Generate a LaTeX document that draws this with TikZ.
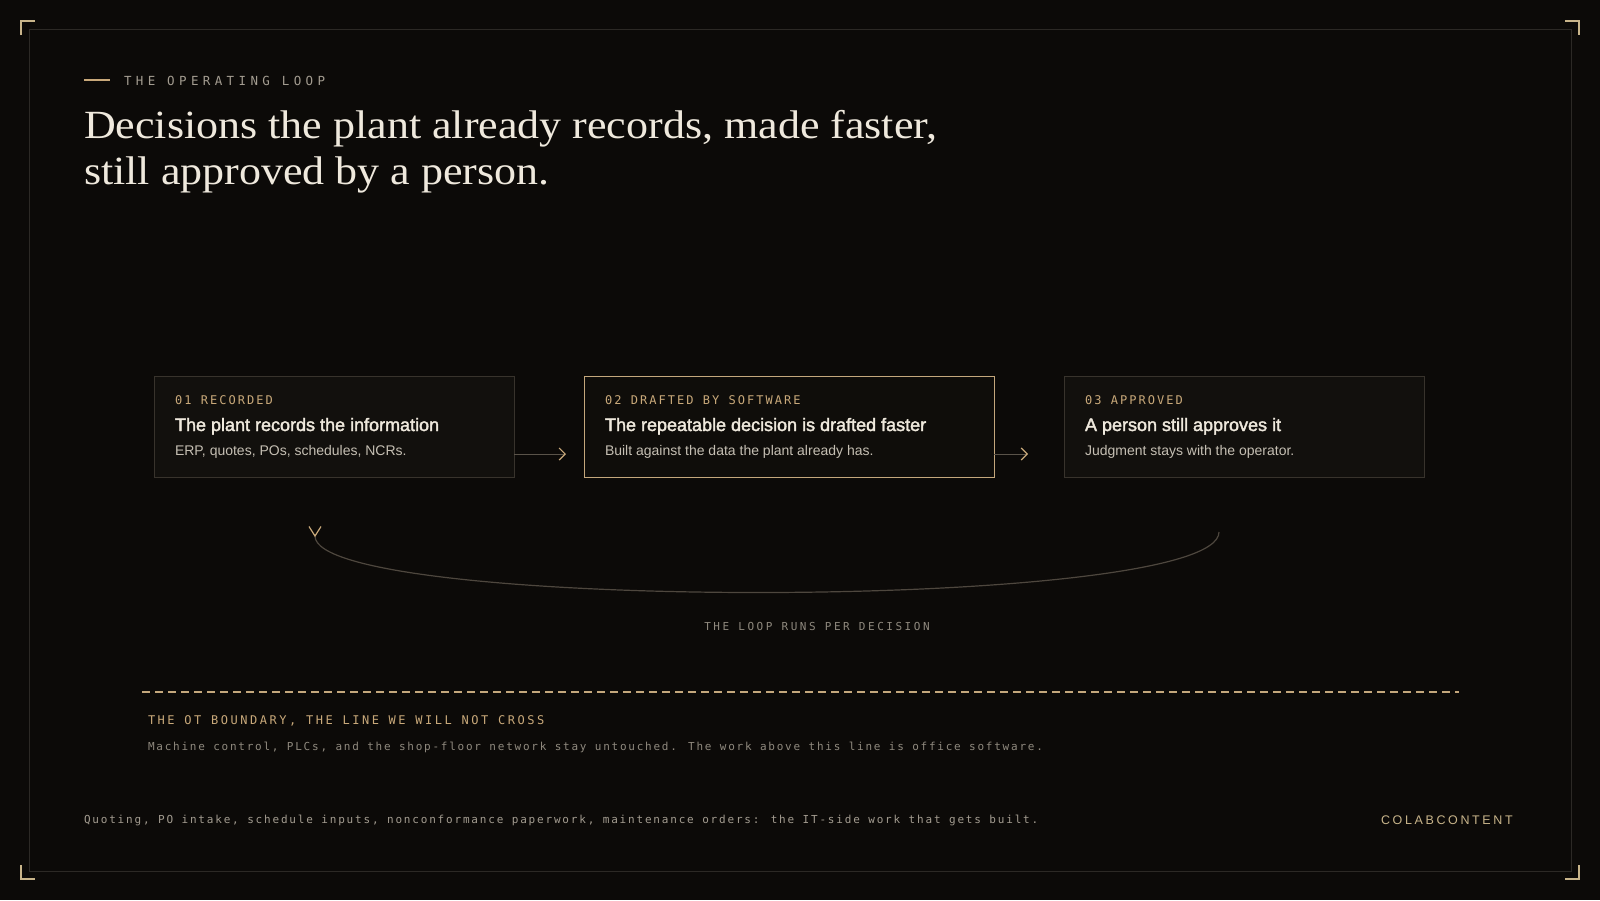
\documentclass[tikz,border=0pt]{standalone}
\usepackage{fontspec}
\usetikzlibrary{arrows.meta,calc}
\newfontfamily\monof{DejaVu Sans Mono}
\newfontfamily\sansf{Liberation Sans}
\newfontfamily\sansfb{Liberation Sans}[FakeBold=2]
\newfontfamily\seriff{Liberation Serif}[FakeStretch=1.1]
\definecolor{bg}{HTML}{0C0A08}
\definecolor{framec}{HTML}{2C2925}
\definecolor{bracketc}{HTML}{C8B48A}
\definecolor{goldtxt}{HTML}{C9A97A}
\definecolor{goldline}{HTML}{C4A77C}
\definecolor{cardline}{HTML}{38332C}
\definecolor{cardfill}{HTML}{12100D}
\definecolor{cardfillhi}{HTML}{0F0D0A}
\definecolor{cream}{HTML}{EFE9DD}
\definecolor{subtxt}{HTML}{C5BFB3}
\definecolor{graytxt}{HTML}{A39C90}
\definecolor{dimtxt}{HTML}{8F897E}
\definecolor{flowc}{HTML}{5A5349}
\definecolor{loopc}{HTML}{4E473E}
\tikzset{
  frame/.style={draw=framec, line width=1pt},
  bracket/.style={draw=bracketc, line width=1.3pt},
  card/.style={draw=cardline, fill=cardfill, line width=1pt, inner sep=0pt, outer sep=0pt, anchor=north west, minimum height=101pt},
  cardhi/.style={card, draw=goldline, fill=cardfillhi},
  txt/.style={anchor=base west, inner sep=0pt, outer sep=0pt},
  eyebrow/.style={txt, text=graytxt, font={\monof\fontsize{12.5}{15}\selectfont\addfontfeature{LetterSpace=35}}},
  headline/.style={txt, text=cream, font={\seriff\fontsize{40}{46}\selectfont}},
  steplbl/.style={txt, text=goldtxt, font={\monof\fontsize{12}{14}\selectfont\addfontfeature{LetterSpace=17}}},
  steptitle/.style={txt, text=cream, font={\sansfb\fontsize{18}{22}\selectfont}},
  stepsub/.style={txt, text=subtxt, font={\sansf\fontsize{14}{17}\selectfont}},
  flow/.style={draw=flowc, line width=1pt, -{Straight Barb[length=6pt,width=12pt,line width=1.2pt,color=goldtxt]}},
  loopline/.style={draw=loopc, line width=1.2pt},
  vmark/.style={draw=goldtxt, line width=1.2pt},
  looplbl/.style={anchor=base, inner sep=0pt, text=dimtxt, font={\monof\fontsize{11}{13}\selectfont\addfontfeature{LetterSpace=23}}},
  otline/.style={draw=goldline, line width=1.2pt, dash pattern=on 8pt off 5pt},
  ottitle/.style={txt, text=goldtxt, font={\monof\fontsize{12}{14}\selectfont\addfontfeature{LetterSpace=21}}},
  otdesc/.style={txt, text=dimtxt, font={\monof\fontsize{11}{13}\selectfont\addfontfeature{LetterSpace=16}}},
  footer/.style={txt, text=graytxt, font={\monof\fontsize{11}{13}\selectfont\addfontfeature{LetterSpace=16.5}}},
  brand/.style={txt, text=bracketc, font={\sansf\fontsize{12.5}{15}\selectfont\addfontfeature{LetterSpace=21}}}
}
\begin{document}
\begin{tikzpicture}[x=1pt,y=-1pt]
\useasboundingbox (0,0) rectangle (1600,900);
\fill[bg] (0,0) rectangle (1600,900);
% frame and corner brackets
\draw[frame] (29,29) rectangle (1571,871);
\draw[bracket] (21,35) -- (21,21) -- (35,21);
\draw[bracket] (1565,21) -- (1579,21) -- (1579,35);
\draw[bracket] (21,865) -- (21,879) -- (35,879);
\draw[bracket] (1565,879) -- (1579,879) -- (1579,865);
% header
\coordinate (rule1) at (84,80);
\coordinate (rule2) at (110,80);
\draw[draw=goldtxt, line width=1.2pt] (rule1) -- (rule2);
\node[eyebrow] (eyebrow) at (124,85) {THE OPERATING LOOP};
\node[headline] (head1) at (84,138) {Decisions the plant already records, made faster,};
\node[headline] (head2) at (84,184) {still approved by a person.};
% cards
\node[card, minimum width=360pt] (b1) at (154,376) {};
\node[cardhi, minimum width=410pt] (b2) at (584,376) {};
\node[card, minimum width=360pt] (b3) at (1064,376) {};
\node[steplbl] (l1) at ($(b1.north west)+(21,28)$) {01 RECORDED};
\node[steptitle] (t1) at ($(b1.north west)+(21,55)$) {The plant records the information};
\node[stepsub] (s1) at ($(b1.north west)+(21,79)$) {ERP, quotes, POs, schedules, NCRs.};
\node[steplbl] (l2) at ($(b2.north west)+(21,28)$) {02 DRAFTED BY SOFTWARE};
\node[steptitle] (t2) at ($(b2.north west)+(21,55)$) {The repeatable decision is drafted faster};
\node[stepsub] (s2) at ($(b2.north west)+(21,79)$) {Built against the data the plant already has.};
\node[steplbl] (l3) at ($(b3.north west)+(21,28)$) {03 APPROVED};
\node[steptitle] (t3) at ($(b3.north west)+(21,55)$) {A person still approves it};
\node[stepsub] (s3) at ($(b3.north west)+(21,79)$) {Judgment stays with the operator.};
% flow arrows
\coordinate (arrowrow) at (0,454);
\coordinate (a1e) at (566,454);
\coordinate (a2e) at (1028,454);
\draw[flow] (b1.east |- arrowrow) -- (a1e);
\draw[flow] (b2.east |- arrowrow) -- (a2e);
% loop back
\coordinate (lr) at (1219,532);
\coordinate (ll) at (315,536);
\coordinate (lc1) at (1219,612);
\coordinate (lc2) at (315,612);
\draw[loopline] (lr) .. controls (lc1) and (lc2) .. (ll);
\draw[vmark] ([shift={(-6,-9.5)}]ll) -- (ll) -- ([shift={(6,-9.5)}]ll);
\node[looplbl] (looplbl) at (817,630) {THE LOOP RUNS PER DECISION};
% OT boundary
\coordinate (ot1) at (142,692);
\coordinate (ot2) at (1459,692);
\draw[otline] (ot1) -- (ot2);
\node[ottitle] (ottitle) at (148,724) {THE OT BOUNDARY, THE LINE WE WILL NOT CROSS};
\node[otdesc] (otdesc) at (148,750) {Machine control, PLCs, and the shop-floor network stay untouched. The work above this line is office software.};
% footer
\node[footer] (foot) at (84,823) {Quoting, PO intake, schedule inputs, nonconformance paperwork, maintenance orders: the IT-side work that gets built.};
\node[brand] (brand) at (1381,824) {COLABCONTENT};
\end{tikzpicture}
\end{document}
